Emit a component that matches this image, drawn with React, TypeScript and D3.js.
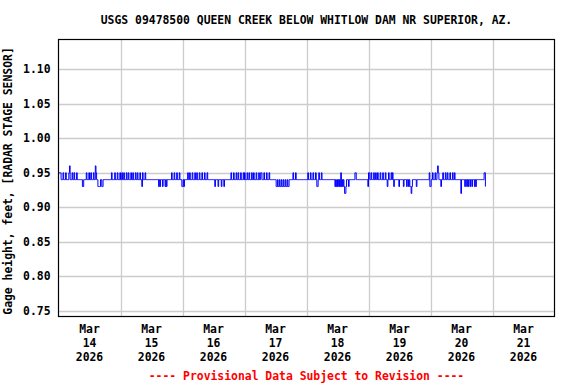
import React from 'react';
import * as d3 from 'd3';

// gage height readings every 15 minutes, one digit per reading: 0.9 + digit / 100 ft
// each day is split into 3-hour chunks (12 readings)
const mar14 = ["555544454445", "444456444544", "544454444444", "433444454445", "445444544654", "433334433444", "444444444454", "444544454445"];
const mar15 = ["445445444544", "544454454445", "445444544354", "445444444444", "444444444443", "434443444343", "444444454445", "444544454443"];
const mar16 = ["343444445445", "444544454454", "445444544454", "445444444444", "443444434444", "344434444444", "444544454445", "445444544454"];
const mar17 = ["544454454445", "445444544454", "455444544454", "445444444444", "433433433433", "433433433444", "444544454444", "444444444444"];
const mar18 = ["445444544454", "445433454445", "444444444444", "444444443434", "343435343432", "234443444444", "444554444444", "444444444443"];
const mar19 = ["554454445445", "445444544454", "445443454445", "454344444443", "444444344443", "443433234444", "443444444444", "444444444453"];
const mar20 = ["344544454456", "544434454445", "445444544454", "454444444442", "444443443434", "434434443434", "444444444445", "53"];

const days = [mar14, mar15, mar16, mar17, mar18, mar19, mar20];
const dayLabels = ["14", "15", "16", "17", "18", "19", "20", "21"];
const yTicks = [0.75, 0.80, 0.85, 0.90, 0.95, 1.00, 1.05, 1.10];

const title = "USGS 09478500 QUEEN CREEK BELOW WHITLOW DAM NR SUPERIOR, AZ.";
const yTitle = "Gage height, feet, [RADAR STAGE SENSOR]";
const footnote = "---- Provisional Data Subject to Revision ----";

const width = 576;
const height = 384;
const plot = { left: 58.5, right: 554.5, top: 39.5, bottom: 316.5 };
const font = "'DejaVu Sans Mono', 'Liberation Mono', monospace";

type Reading = { t: Date; v: number };

function readings(): Reading[] {
    const out: Reading[] = [];
    days.forEach((chunks, d) => {
        chunks.join("").split("").forEach((c, i) => {
            out.push({
                t: new Date(Date.UTC(2026, 2, 14 + d, 0, i * 15)),
                v: 0.9 + Number(c) / 100
            });
        });
    });
    return out;
}

export default function App() {
    const data = readings();

    const x = d3.scaleUtc()
        .domain([new Date(Date.UTC(2026, 2, 14)), new Date(Date.UTC(2026, 2, 22))])
        .range([plot.left, plot.right]);
    const y = d3.scaleLinear()
        .domain([0.75, 1.10])
        .range([310.7, 69.3]);

    const line = d3.line<Reading>()
        .x(d => x(d.t))
        .y(d => y(d.v))
        .curve(d3.curveStepAfter);

    const dayTicks = x.ticks(d3.utcDay.every(1)!);
    const labelStyle = { fontFamily: font, fontWeight: 'bold' as const, fontSize: 11.4 };

    return (
        <svg width={width} height={height} style={{ position: 'absolute', left: 0, top: 0, background: '#fff' }}>
            <text x={306.5} y={24} textAnchor="middle" style={labelStyle}>{title}</text>

            {/* grid */}
            {yTicks.map(t => (
                <line key={'gy' + t} x1={plot.left} x2={plot.right}
                      y1={Math.round(y(t)) + 0.5} y2={Math.round(y(t)) + 0.5}
                      stroke="#cccccc" strokeWidth={1.3}/>
            ))}
            {dayTicks.slice(1, -1).map(t => (
                <line key={'gx' + t.getTime()} y1={plot.top} y2={plot.bottom}
                      x1={Math.round(x(t)) + 0.5} x2={Math.round(x(t)) + 0.5}
                      stroke="#cccccc" strokeWidth={1.3}/>
            ))}

            <path d={line(data) || ''} fill="none" stroke="#0000ff" strokeWidth={1}/>

            <rect x={plot.left} y={plot.top} width={plot.right - plot.left} height={plot.bottom - plot.top}
                  fill="none" stroke="#000" strokeWidth={1.2}/>

            {/* y axis */}
            {yTicks.map(t => (
                <text key={'ty' + t} x={50.5} y={y(t) + 4} textAnchor="end" style={labelStyle}>
                    {t.toFixed(2)}
                </text>
            ))}
            <text transform={`translate(12, ${(plot.top + plot.bottom) / 2 + 3}) rotate(-90)`}
                  textAnchor="middle" style={labelStyle}>{yTitle}</text>

            {/* x axis: labels at noon of each day */}
            {dayTicks.slice(0, -1).map((t, i) => {
                const cx = x(d3.utcHour.offset(t, 12));
                return (
                    <g key={'tx' + i} style={labelStyle}>
                        <text x={cx} y={333} textAnchor="middle">Mar</text>
                        <text x={cx} y={347} textAnchor="middle">{dayLabels[i]}</text>
                        <text x={cx} y={361} textAnchor="middle">2026</text>
                    </g>
                );
            })}

            <text x={306.5} y={380} textAnchor="middle" fill="#ff0000" style={labelStyle}>{footnote}</text>
        </svg>
    );
}
